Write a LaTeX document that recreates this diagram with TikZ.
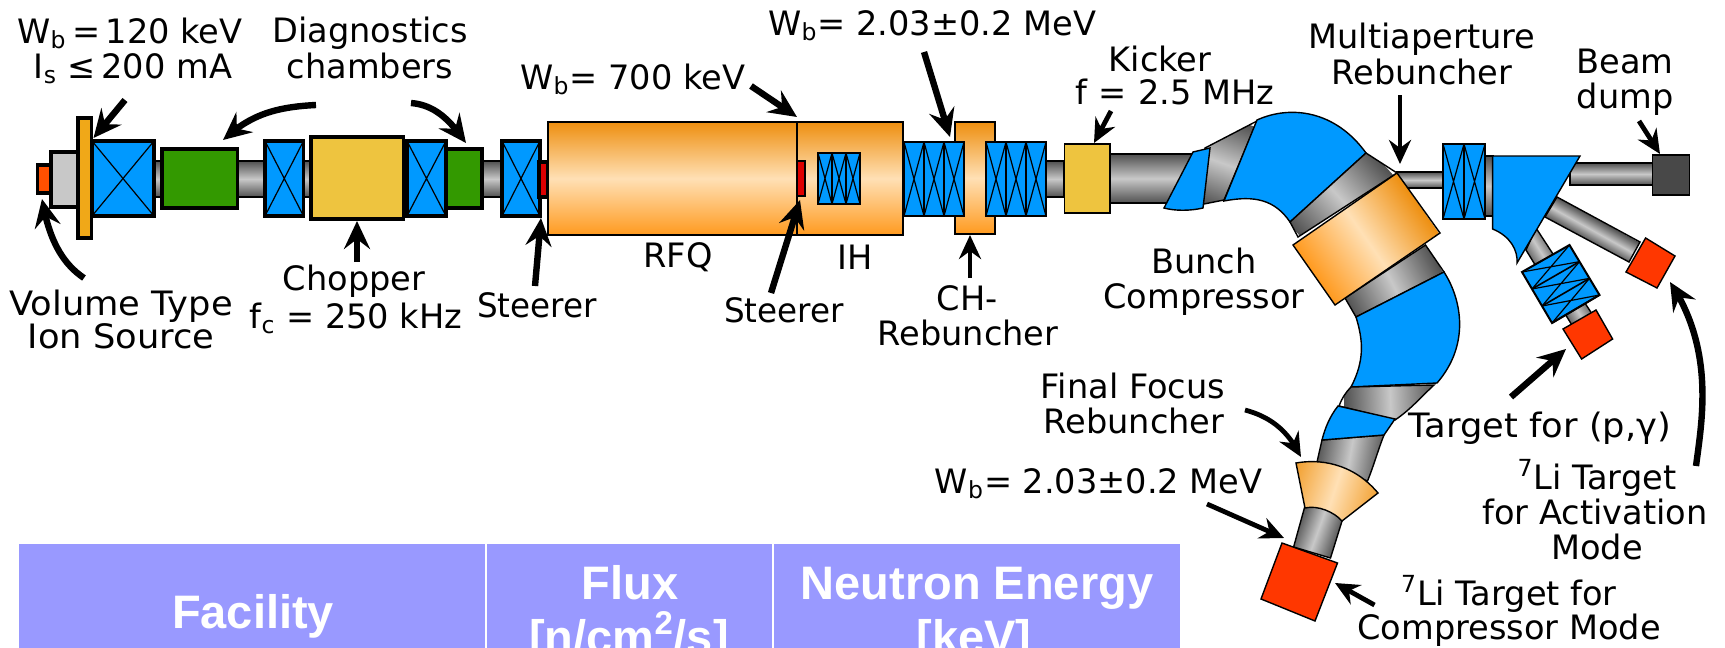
\documentclass[tikz,border=0pt]{standalone}
\usepackage{fontspec}
\setmainfont{DejaVu Sans}
\newfontfamily\tblfont{Liberation Sans}
\usetikzlibrary{arrows.meta,calc,bending}
\definecolor{solblue}{HTML}{0099FF}
\definecolor{chgreen}{HTML}{339900}
\definecolor{yel}{HTML}{EEC43F}
\definecolor{plate}{HTML}{F0A818}
\definecolor{srcred}{HTML}{FF5000}
\definecolor{tgtred}{HTML}{FF3700}
\definecolor{steer}{HTML}{DD0000}
\definecolor{dumpgrey}{HTML}{484848}
\definecolor{boxgrey}{HTML}{C8C8C8}
\definecolor{thead}{HTML}{9999FF}
\definecolor{pipeD}{HTML}{505050}
\definecolor{pipeL}{HTML}{C8C8C8}
\definecolor{orE}{HTML}{EE8F10}
\definecolor{orM}{HTML}{FFE0B5}
\definecolor{orB}{HTML}{FF9A1F}
\definecolor{ffE}{HTML}{F2A030}
\tikzset{
  lbl/.style={anchor=base,inner sep=0pt,font=\fontsize{16.8}{20}\selectfont},
  tbl/.style={anchor=base,inner sep=0pt,text=white,font=\tblfont\bfseries\fontsize{23.5}{28}\selectfont},
  heavy/.style={draw=black,line width=1.6pt},
  hair/.style={draw=black,line width=0.7pt},
  hpipe/.style={hair,top color=pipeD,bottom color=pipeD,middle color=pipeL},
  greyramp/.style={left color=pipeD,right color=pipeD,middle color=pipeL},
  orangeramp/.style={left color=orB,right color=orE,middle color=orM},
  paleramp/.style={left color=ffE,right color=ffE,middle color=orM},
  dipole/.style={hair,fill=solblue},
  tgt/.style={hair,fill=tgtred},
  horange/.style={hair,top color=orE,bottom color=orB,middle color=orM},
  pointer/.style={draw=black,line width=3.2pt,-{Stealth[length=14pt,width=13pt,inset=5pt,flex]}},
  smallptr/.style={draw=black,line width=2.4pt,-{Stealth[length=12pt,width=11pt,inset=4pt,flex]}},
}
% x1 x2 y1 y2 sections linewidth
\newcommand{\solbox}[6]{%
  \pgfmathsetmacro{\sw}{(#2-#1)/#5}%
  \foreach \k in {1,...,#5}{%
    \pgfmathsetmacro{\xa}{#1+(\k-1)*\sw}\pgfmathsetmacro{\xb}{#1+\k*\sw}%
    \draw[draw=black,fill=solblue,line width=#6] (\xa,#3) rectangle (\xb,#4);
    \draw[draw=black,line width=0.6pt] (\xa,#3) -- (\xb,#4) (\xa,#4) -- (\xb,#3);
  }}
% outline path, centre x, centre y, gradient direction, half width, ramp style
\newcommand{\tiltfill}[6]{%
  \begin{scope}
    \clip #1;
    \begin{scope}[transform canvas={rotate around={#4:(#2,#3)}}]
      \shade[#6] ({#2-#5},{#3-200}) rectangle ({#2+#5},{#3+200});
    \end{scope}
  \end{scope}
  \draw[hair] #1;}
\begin{document}
\begin{tikzpicture}[x=0.5pt,y=-0.5pt]
\useasboundingbox (0,0) rectangle (1725,648);
% straight beam line
\draw[hpipe] (154,161) rectangle (502,197);
\draw[hpipe] (1046,161) rectangle (1064,197);
\draw[hpipe] (1110,154) rectangle (1196,203);
\draw[hpipe] (1397,172) rectangle (1443,188);
\draw[hpipe] (1485,156) rectangle (1493,216);
\draw[hpipe] (1570,163) rectangle (1653,185);
% source
\draw[heavy,fill=srcred] (37.5,165) rectangle (51,193);
\draw[heavy,fill=boxgrey] (51,152) rectangle (78.5,207);
\draw[heavy,fill=plate] (78,118) rectangle (91.5,238);
\solbox{92}{154}{141}{216}{1}{1.6pt}
\draw[heavy,fill=chgreen] (162,149) rectangle (237.5,208);
\solbox{265}{303.5}{141}{216}{1}{1.6pt}
\draw[heavy,fill=yel] (311,137) rectangle (403.5,219);
\solbox{407}{446}{141}{216}{1}{1.6pt}
\draw[heavy,fill=chgreen] (446,149) rectangle (482,208);
\solbox{502}{540}{141}{216}{1}{1.6pt}
\draw[heavy,fill=steer] (539,162) rectangle (548,197);
% RFQ and IH
\draw[horange] (548,122) rectangle (797,235);
\draw[horange] (797,122) rectangle (903,235);
\draw[heavy,line width=1pt,fill=steer] (797,161) rectangle (805,196);
\solbox{818}{860}{153}{204}{3}{1pt}
% CH
\draw[horange] (955,122) rectangle (995,234);
\solbox{904}{964}{142}{216}{3}{1pt}
\solbox{986}{1046}{142}{216}{3}{1pt}
\draw[hair,fill=yel] (1064.5,144) rectangle (1110,213);
% bunch compressor
\tiltfill{(1205,148) -- (1257,121) -- (1224,200) -- (1199,205) -- cycle}{1228}{165}{70}{45}{greyramp}
\draw[dipole] (1193,152) -- (1210,148) -- (1203,208) .. controls (1190,211) and (1175,211) .. (1164,208) -- cycle;
\draw[dipole] (1257,120) .. controls (1290,105) and (1335,110) .. (1366,153)
  -- (1290,222) .. controls (1275,200) and (1255,195) .. (1224,201) -- cycle;
\tiltfill{(1366,153) -- (1397,173) -- (1298,237) -- (1290,222) -- cycle}{1338}{196}{42}{55}{greyramp}
\tiltfill{(1425.5,245) -- (1444,272) -- (1356,317) -- (1345,298) -- cycle}{1392}{283}{27}{50}{greyramp}
\tiltfill{(1397,173) -- (1440,233) -- (1335,305) -- (1293,245) -- cycle}{1366}{239}{35}{63}{orangeramp}
\draw[dipole] (1444,272) .. controls (1462,300) and (1470,345) .. (1437,383)
  -- (1351,387) .. controls (1365,360) and (1363,340) .. (1356,317) -- cycle;
\tiltfill{(1351,387) -- (1434,385) .. controls (1420,398) and (1410,410) .. (1395,420) -- (1339,406) .. controls (1342,398) and (1346,392) .. (1351,387) -- cycle}{1390}{400}{2}{46}{greyramp}
\tiltfill{(1322,440) -- (1384,435) .. controls (1378,450) and (1374,465) .. (1367.5,481) -- (1317,462) -- cycle}{1350}{455}{-10}{34}{greyramp}
\draw[dipole] (1338,406) -- (1395,419) -- (1384,435) -- (1322,440) .. controls (1325,428) and (1330,416) .. (1338,406) -- cycle;
\tiltfill{(1308,495) -- (1347,505) -- (1330.5,558) -- (1293.6,547) -- cycle}{1318}{530}{-20}{22}{greyramp}
\tiltfill{(1296,463) .. controls (1318,459) and (1352,462) .. (1378,493) -- (1342,521) .. controls (1334,512) and (1318,505) .. (1305,508) -- cycle}{1335}{488}{-18}{44}{paleramp}
\draw[tgt] (1282,543) -- (1337.5,563) -- (1315,621) -- (1261,599) -- cycle;
% final section
\tiltfill{(1557,197) -- (1640,242) -- (1629,262) -- (1545,217) -- cycle}{1592}{230}{61}{12}{greyramp}
\tiltfill{(1536,228) -- (1596,320) -- (1578,335) -- (1526,250) -- cycle}{1560}{283}{32}{15}{greyramp}
\coordinate (sa) at (1522,272); \coordinate (sb) at (1569.5,245);
\coordinate (sc) at (1599.5,295); \coordinate (sd) at (1552,323);
\draw[heavy,line width=1pt,fill=solblue] (sa) -- (sb) -- (sc) -- (sd) -- cycle;
\foreach \t/\u in {0/0.333,0.333/0.667,0.667/1}{
  \draw[draw=black,line width=0.6pt] ($(sa)!\t!(sd)$) -- ($(sb)!\u!(sc)$) ($(sb)!\t!(sc)$) -- ($(sa)!\u!(sd)$);
  \draw[draw=black,line width=0.8pt] ($(sa)!\u!(sd)$) -- ($(sb)!\u!(sc)$);
}
\draw[tgt] (1596,310) -- (1612.6,339) -- (1581.6,359) -- (1563,329) -- cycle;
\draw[tgt] (1645.6,238) -- (1675,256) -- (1657,288) -- (1626,272) -- cycle;
\solbox{1443}{1485}{144}{219}{2}{1.2pt}
\draw[dipole] (1492.6,156) -- (1580,156) -- (1517,263) .. controls (1518,250) and (1510,236) .. (1492.6,229) -- cycle;
\draw[hair,fill=dumpgrey] (1652.6,155) rectangle (1689.6,195);
% pointers
\coordinate (a1s) at (125,100); \coordinate (a1e) at (93.5,138);
\coordinate (a2s) at (316,105); \coordinate (a2e) at (223,140);
\coordinate (a3s) at (411,103); \coordinate (a3e) at (466,143);
\coordinate (a4s) at (357,262); \coordinate (a4e) at (357,221);
\coordinate (a5s) at (84,278);  \coordinate (a5e) at (42,199);
\coordinate (a6s) at (535,286); \coordinate (a6e) at (541,218);
\coordinate (a7s) at (751,86);  \coordinate (a7e) at (797,117);
\coordinate (a8s) at (924,52);  \coordinate (a8e) at (950,137);
\coordinate (a9s) at (771,293); \coordinate (a9e) at (800,200);
\coordinate (a10s) at (970,278); \coordinate (a10e) at (970,235);
\coordinate (a11s) at (1111,111); \coordinate (a11e) at (1094,143);
\coordinate (a12s) at (1400,95); \coordinate (a12e) at (1400,164);
\coordinate (a13s) at (1639,121); \coordinate (a13e) at (1660,154);
\coordinate (a14s) at (1245,410); \coordinate (a14e) at (1301,457);
\coordinate (a15s) at (1207,504); \coordinate (a15e) at (1284,538);
\coordinate (a16s) at (1374.5,605); \coordinate (a16e) at (1335,583);
\coordinate (a17s) at (1511,397); \coordinate (a17e) at (1566,349);
\coordinate (a18s) at (1696,466); \coordinate (a18e) at (1670,282);
\draw[pointer] (a1s) -- (a1e);
\draw[pointer] (a2s) .. controls (275,107) and (250,115) .. (a2e);
\draw[pointer] (a3s) .. controls (435,105) and (450,120) .. (a3e);
\draw[pointer] (a4s) -- (a4e);
\draw[pointer] (a5s) .. controls (60,262) and (48,235) .. (a5e);
\draw[pointer] (a6s) -- (a6e);
\draw[pointer] (a7s) -- (a7e);
\draw[pointer] (a8s) -- (a8e);
\draw[pointer] (a9s) -- (a9e);
\draw[smallptr] (a10s) -- (a10e);
\draw[smallptr] (a11s) -- (a11e);
\draw[smallptr] (a12s) -- (a12e);
\draw[smallptr] (a13s) -- (a13e);
\draw[smallptr] (a14s) .. controls (1275,418) and (1290,435) .. (a14e);
\draw[smallptr] (a15s) -- (a15e);
\draw[smallptr] (a16s) -- (a16e);
\draw[pointer] (a17s) -- (a17e);
\draw[pointer] (a18s) .. controls (1702,420) and (1715,350) .. (a18e);
% labels
\node[lbl] (t1) at (130,43) {W\textsubscript{b}\,=\,120 keV};
\node[lbl] (t2) at (133,78) {I\textsubscript{s} ≤\,200 mA};
\node[lbl] (t3) at (370,42) {Diagnostics};
\node[lbl] (t4) at (370,78) {chambers};
\node[lbl] (t5) at (121,315) {\scalebox{1.05}[1]{Volume Type}};
\node[lbl] (t6) at (121,348) {\scalebox{1.05}[1]{Ion Source}};
\node[lbl] (t7) at (354,290) {Chopper};
\node[lbl] (t8) at (356,328) {f\textsubscript{c} = 250 kHz};
\node[lbl] (t9) at (537,317) {\scalebox{0.97}[1]{Steerer}};
\node[lbl,anchor=base west] (t10) at (768,35) {W\textsubscript{b}= 2.03±0.2 MeV};
\node[lbl,anchor=base west] (t11) at (520,89) {W\textsubscript{b}= 700 keV};
\node[lbl] (t12) at (678,267) {RFQ};
\node[lbl] (t13) at (855,269) {IH};
\node[lbl] (t14) at (784,322) {\scalebox{0.97}[1]{Steerer}};
\node[lbl] (t15) at (967,310) {CH-};
\node[lbl] (t16) at (968,345) {Rebuncher};
\node[lbl] (t17) at (1160,71) {Kicker};
\node[lbl] (t18) at (1175,104) {f\,\,=\,\,2.5 MHz};
\node[lbl] (t19) at (1422,48) {Multiaperture};
\node[lbl] (t20) at (1422,84) {Rebuncher};
\node[lbl] (t21) at (1625,73) {Beam};
\node[lbl] (t22) at (1625,108) {dump};
\node[lbl] (t23) at (1204,273) {Bunch};
\node[lbl] (t24) at (1204,308) {Compressor};
\node[lbl] (t25) at (1133,398) {Final Focus};
\node[lbl] (t26) at (1134,433) {Rebuncher};
\node[lbl,anchor=base east] (t27) at (1263,493) {W\textsubscript{b}= 2.03±0.2 MeV};
\node[lbl] (t28) at (1540,437) {\scalebox{1.05}[1]{Target for (p,γ)}};
\node[lbl] (t29) at (1597,489) {\textsuperscript{7}Li Target};
\node[lbl] (t30) at (1595,524) {for Activation};
\node[lbl] (t31) at (1597,559) {Mode};
\node[lbl] (t32) at (1509,605) {\textsuperscript{7}Li Target for};
\node[lbl] (t33) at (1509,639) {Compressor Mode};
% table header, cut by the lower edge of the picture
\begin{scope}
\clip (0,0) rectangle (1725,648);
\fill[thead] (19,544) rectangle (485,648);
\fill[thead] (487,544) rectangle (772,648);
\fill[thead] (774,544) rectangle (1180,648);
\node[tbl] (h1) at (253,628) {Facility};
\node[tbl] (h2) at (630,599) {Flux};
\node[tbl] (h3) at (629,653) {[n/cm\textsuperscript{2}/s]};
\node[tbl] (h4) at (977,599) {Neutron Energy};
\node[tbl] (h5) at (974,653) {[keV]};
\end{scope}
\end{tikzpicture}
\end{document}
